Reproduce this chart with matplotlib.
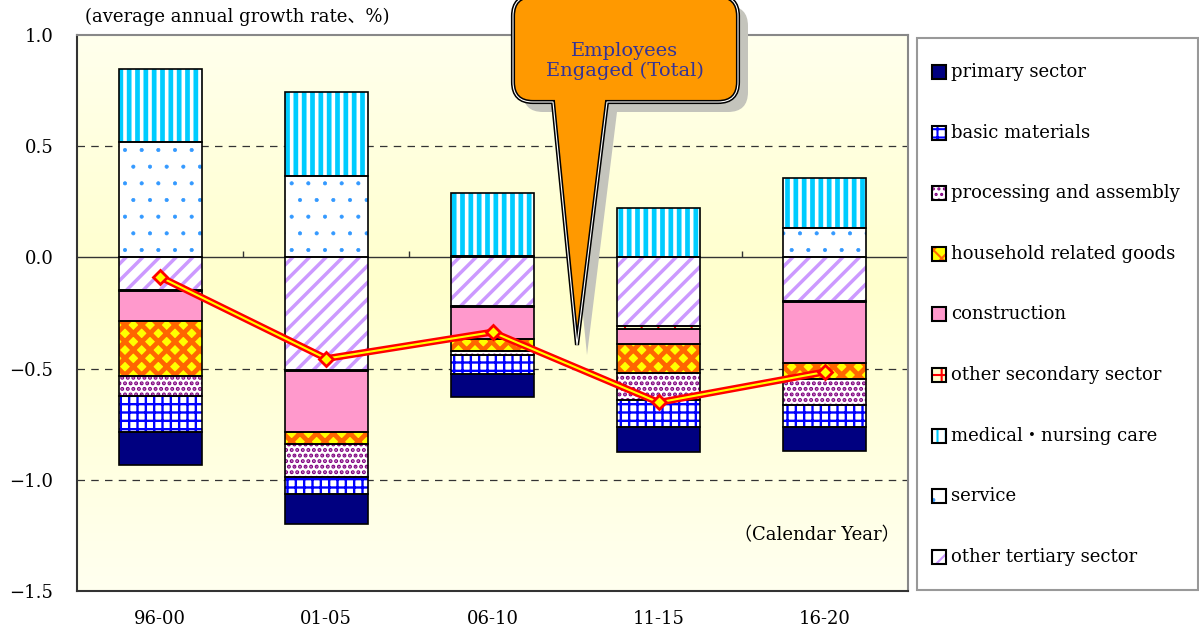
import matplotlib
matplotlib.use("Agg")
import matplotlib.pyplot as plt
import numpy as np
from matplotlib.patches import Rectangle, PathPatch
from matplotlib.path import Path

plt.rcParams['font.family'] = ['DejaVu Serif', 'Noto Sans CJK JP']

# periods and sector contributions (average annual growth rate, %)
periods = ['96-00', '01-05', '06-10', '11-15', '16-20']
primary = [-0.147, -0.138, -0.102, -0.112, -0.107]
basic = [-0.160, -0.075, -0.086, -0.120, -0.101]
processing = [-0.092, -0.147, -0.019, -0.125, -0.117]
household = [-0.247, -0.055, -0.055, -0.130, -0.070]
construction = [-0.133, -0.272, -0.145, -0.066, -0.275]
other_secondary = [-0.008, -0.008, -0.004, -0.012, -0.004]
medical = [0.327, 0.377, 0.283, 0.223, 0.225]
service = [0.518, 0.366, 0.008, 0.000, 0.132]
other_tertiary = [-0.145, -0.505, -0.217, -0.310, -0.196]
total = [-0.088, -0.455, -0.336, -0.652, -0.515]

legend_labels = ['primary sector', 'basic materials', 'processing and assembly',
                 'household related goods', 'construction', 'other secondary sector',
                 'medical\u30fbnursing care', 'service', 'other tertiary sector']
series = [primary, basic, processing, household, construction,
          other_secondary, medical, service, other_tertiary]

# face colour, hatch, hatch colour, hatch linewidth
styles = [
    ('#000080', None, '#000080', 1.0),
    ('white', '++', '#0000FF', 1.7),
    ('white', '...', '#800080', 2.0),
    ('#FFFF00', 'xx', '#FF6600', 3.4),
    ('#FF99CC', None, '#FF99CC', 1.0),
    ('#FFFFCC', '+', '#FF0000', 1.5),
    ('white', '||', '#00CCFF', 3.4),
    ('white', '.', '#3399FF', 0.5),
    ('white', '//', '#CC99FF', 2.5),
]

W, H = 1199, 634
fig = plt.figure(figsize=(W / 100, H / 100), dpi=100)
ax = fig.add_axes([77 / W, 1 - 591 / H, (908 - 77) / W, (591 - 35) / H])

# background gradient
grad = np.interp(np.linspace(0, 1, 256), [0, 0.45, 1], [0.93, 0.80, 0.94])
bg = np.ones((256, 1, 3))
bg[:, 0, 2] = grad
ax.imshow(bg, extent=[0, 1, 0, 1], transform=ax.transAxes, aspect='auto', zorder=0)

x = np.arange(len(periods))
width = 0.5

# stacking order from zero outwards is the reverse of the legend order
pos_base = np.zeros(len(periods))
neg_base = np.zeros(len(periods))
for i in reversed(range(len(series))):
    vals = np.array(series[i])
    fc, hatch, hc, hlw = styles[i]
    bottom = np.where(vals >= 0, pos_base, neg_base)
    bars = ax.bar(x, vals, width, bottom=bottom, color=fc, hatch=hatch,
                  edgecolor=hc, linewidth=0, zorder=3)
    for b in bars:
        if hasattr(b, 'set_hatch_linewidth'):
            b.set_hatch_linewidth(hlw)
    ax.bar(x, vals, width, bottom=bottom, facecolor='none',
           edgecolor='black', linewidth=1.2, zorder=4)
    pos_base = pos_base + np.where(vals >= 0, vals, 0)
    neg_base = neg_base + np.where(vals < 0, vals, 0)

# total line (double red / yellow)
ax.plot(x, total, color='red', lw=5, zorder=6)
ax.plot(x, total, color='#FFFF00', lw=1.5, zorder=7)
ax.plot(x, total, 'D', ms=7, mfc='#FFFF00', mec='red', mew=2, zorder=8)

ax.set_xlim(-0.5, 4.5)
ax.set_ylim(-1.5, 1.0)
ax.set_yticks([1.0, 0.5, 0.0, -0.5, -1.0, -1.5])
ax.set_yticklabels(['1.0', '0.5', '0.0', '\u22120.5', '\u22121.0', '\u22121.5'], fontsize=13)
ax.set_xticks(x)
ax.set_xticklabels(periods, fontsize=13)
ax.tick_params(axis='x', length=0, pad=14)
ax.tick_params(axis='y', length=0, pad=17)

for yv in [0.5, -0.5, -1.0]:
    ax.axhline(yv, color='#333333', lw=0.9, ls=(0, (6, 5)), zorder=1)
ax.axhline(0, color='#333333', lw=1.0, zorder=2)
ax.vlines(x[:-1] + 0.5, 0, 0.03, color='#333333', lw=1.0, zorder=2)

for s in ['top', 'right']:
    ax.spines[s].set_color('#888888')
    ax.spines[s].set_linewidth(1.5)
for s in ['left', 'bottom']:
    ax.spines[s].set_color('#333333')
    ax.spines[s].set_linewidth(1.5)

fig.text(85 / W, 1 - 17 / H, '(average annual growth rate\u3001%)', fontsize=13,
         ha='left', va='center')
ax.text(4.45, -1.25, '\uff08Calendar Year\uff09', fontsize=13, ha='right', va='center',
        zorder=9)

# legend box
fig.add_artist(Rectangle((917 / W, 1 - 590 / H), (W - 918) / W, (590 - 38) / H,
                         transform=fig.transFigure, facecolor='white',
                         edgecolor='#999999', lw=1.5))
for i, lab in enumerate(legend_labels):
    cy = 72 + i * 60.6
    fc, hatch, hc, hlw = styles[i]
    r = Rectangle((932 / W, 1 - (cy + 7) / H), 14 / W, 14 / H, transform=fig.transFigure,
                  facecolor=fc, hatch=hatch, edgecolor=hc, lw=0)
    if hasattr(r, 'set_hatch_linewidth'):
        r.set_hatch_linewidth(min(hlw, 1.5))
    fig.add_artist(r)
    fig.add_artist(Rectangle((932 / W, 1 - (cy + 7) / H), 14 / W, 14 / H,
                             transform=fig.transFigure, facecolor='none',
                             edgecolor='black', lw=1.5))
    fig.text(951 / W, 1 - cy / H, lab, fontsize=13, ha='left', va='center')


# speech-bubble callout
def bubble(dx, dy):
    L, R, T, B, r = 513 + dx, 738 + dx, -4 + dy, 102 + dy, 20
    pts = [(L + r, T), (R - r, T), (R, T), (R, T + r), (R, B - r), (R, B), (R - r, B),
           (607 + dx, B), (577 + dx, 345 + dy), (553 + dx, B),
           (L + r, B), (L, B), (L, B - r), (L, T + r), (L, T), (L + r, T), (L + r, T)]
    codes = [Path.MOVETO, Path.LINETO, Path.CURVE3, Path.CURVE3, Path.LINETO,
             Path.CURVE3, Path.CURVE3, Path.LINETO, Path.LINETO, Path.LINETO,
             Path.LINETO, Path.CURVE3, Path.CURVE3, Path.LINETO, Path.CURVE3,
             Path.CURVE3, Path.CLOSEPOLY]
    return Path([(px / W, 1 - py / H) for px, py in pts], codes)


fig.add_artist(PathPatch(bubble(10, 10), transform=fig.transFigure,
                         facecolor='#C4C4BC', edgecolor='none', zorder=10))
fig.add_artist(PathPatch(bubble(0, 0), transform=fig.transFigure,
                         facecolor='#FF9900', edgecolor='black', lw=3, zorder=11,
                         joinstyle='miter'))
fig.add_artist(PathPatch(bubble(0, 0), transform=fig.transFigure,
                         facecolor='none', edgecolor='white', lw=0.8, zorder=12,
                         joinstyle='miter'))
fig.text(625 / W, 1 - 61 / H, 'Employees\nEngaged (Total)', fontsize=14,
         color='#333399', ha='center', va='center', linespacing=1.1, zorder=13)

fig.savefig('out.png', dpi=100, facecolor='white')
